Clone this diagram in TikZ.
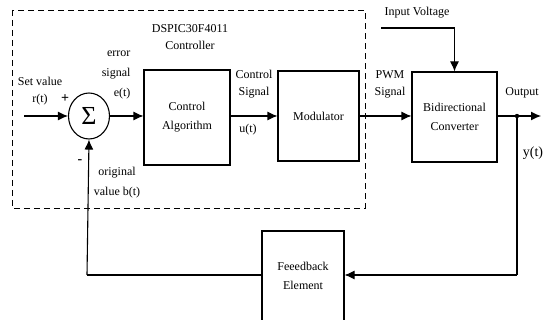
\documentclass[tikz,border=0pt]{standalone}
\usepackage{fontspec}
\setmainfont{Liberation Serif}
\usetikzlibrary{arrows.meta, positioning, shapes.geometric}
\tikzset{
  blk/.style = {draw, align=center, inner sep=0pt, text centered},
  lbl/.style = {align=center, inner sep=0pt, font=\fontsize{12}{17}\selectfont},
  frame/.style = {dashed, dash pattern=on 6pt off 4pt, line width=0.9pt}
}

\begin{document}
\begin{tikzpicture}[x=1pt, y=-1pt, ->, >={Latex[length=10pt,width=9pt]},
  line width=1.1pt, font=\fontsize{12}{19}\selectfont]
\useasboundingbox (0,0) rectangle (543,320);
% controller frame
\draw[frame, -] (12,10) rectangle (365,208);
\node[lbl] (dsp) at (190,37) {DSPIC30F4011\\Controller};

% blocks
\node[draw, ellipse, minimum width=41, minimum height=46, inner sep=0pt,
  font=\fontsize{26}{26}\selectfont] (sum) at (89,116) {Σ};
\node[blk, minimum width=86, minimum height=95] (ca) at (187,117.5) {Control\\Algorithm};
\node[blk, minimum width=81, minimum height=90] (mod) at (318.5,116) {Modulator};
\node[blk, minimum width=85, minimum height=90] (conv) at (454.5,117) {Bidirectional\\Converter};
\node[blk, minimum width=82, minimum height=90] (fb) at (303,276) {Feeedback\\Element};

% free ends
\coordinate (ref) at (24,116);
\coordinate (vin) at (381,28);
\coordinate (out) at (541,116);
\coordinate (tap) at (517,116);
\coordinate (bot) at (517,275);
\coordinate (back) at (87,275);

% connectors
\draw (ref) -- (sum);
\draw (sum) -- (ca.west |- sum);
\draw (ca.east |- sum) -- (mod.west |- sum);
\draw (mod.east |- sum) -- (conv.west |- sum);
\draw (vin) -| (conv.north);
\draw (conv.east |- sum) -- (out);
\fill (tap) circle (2.2pt);
\draw[-] (tap) -- (bot);
\draw (bot) -- (fb.east |- bot);
\draw[-] (fb.west |- bot) -- (back);
\draw (back) -- (sum.south);

% signal labels
\node[lbl] (setv) at (40,91) {Set value\\r(t)};
\node[lbl, font=\fontsize{14}{14}\bfseries] (plus) at (65,99) {+};
\node[lbl, font=\fontsize{14}{14}\bfseries] (minus) at (80,162) {-};
\node[lbl, anchor=east, align=right, font=\fontsize{12}{20}\selectfont] (err) at (131,75) {error\\signal\\e(t)};
\node[lbl, font=\fontsize{12}{20}\selectfont] (orig) at (117,183) {original\\value b(t)};
\node[lbl] (ctrl) at (254,84) {Control\\Signal};
\node[lbl] (ut) at (248,130) {u(t)};
\node[lbl] (pwm) at (390,84) {PWM\\Signal};
\node[lbl] (inv) at (417,13) {Input Voltage};
\node[lbl] (outl) at (522,93) {Output};
\node[lbl, font=\fontsize{14}{14}\selectfont] (yt) at (533,153) {y(t)};
\end{tikzpicture}
\end{document}
